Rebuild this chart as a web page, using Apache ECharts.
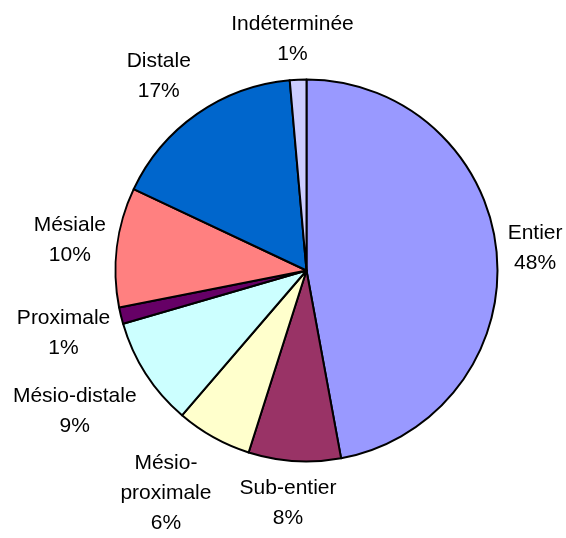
<!DOCTYPE html>
<html><head><meta charset="utf-8">
<script src="https://cdn.jsdelivr.net/npm/echarts@6/dist/echarts.min.js"></script>
<style>html,body{margin:0;padding:0;background:#fff}#c{width:566px;height:538px}</style>
</head><body><div id="c"></div>
<script>
const categories = ['Entier','Sub-entier','Mésio-proximale','Mésio-distale','Proximale','Mésiale','Distale','Indéterminée'];
const labelNames = ['Entier','Sub-entier','Mésio-\nproximale','Mésio-distale','Proximale','Mésiale','Distale','Indéterminée'];
const values = [47.1, 7.8, 6.4, 9.2, 1.4, 10.1, 16.6, 1.4];
const percentLabels = ['48%','8%','6%','9%','1%','10%','17%','1%'];
const colors = ['#9999FF','#993366','#FFFFCC','#CCFFFF','#660066','#FF8080','#0066CC','#CCCCFF'];

const CX = 306.5, CY = 270.5, R = 191, GAP = 11;
const total = values.reduce((a, b) => a + b, 0);
const mids = [];
let acc = 0;
values.forEach(v => { mids.push((acc + v / 2) / total * 2 * Math.PI); acc += v; });
const f = t => Math.sign(t) * Math.min(1, 1.9 * Math.abs(t));

const chart = echarts.init(document.getElementById('c'), null, {renderer: 'canvas'});
chart.setOption({
  animation: false,
  backgroundColor: '#fff',
  series: [{
    type: 'pie',
    center: [CX, CY],
    radius: R,
    startAngle: 90,
    clockwise: true,
    avoidLabelOverlap: false,
    data: categories.map((c, i) => ({name: c, value: values[i], itemStyle: {color: colors[i]}})),
    itemStyle: {borderColor: '#000', borderWidth: 2},
    label: {
      show: true,
      position: 'outside',
      formatter: p => labelNames[p.dataIndex] + '\n' + percentLabels[p.dataIndex],
      color: '#000',
      fontSize: 21,
      lineHeight: 30,
      fontFamily: '"Liberation Sans", Arial, sans-serif',
      align: 'center'
    },
    labelLine: {show: false},
    labelLayout: function (p) {
      const a = mids[p.dataIndex];
      const ux = Math.sin(a), uy = -Math.cos(a);
      const w = p.labelRect.width, h = p.labelRect.height;
      return {
        x: CX + (R + GAP) * ux + f(ux) * w / 2,
        y: CY + (R + GAP) * uy + f(uy) * h / 2 + 1,
        align: 'center',
        verticalAlign: 'middle'
      };
    },
    emphasis: {disabled: true}
  }]
});
</script></body></html>
